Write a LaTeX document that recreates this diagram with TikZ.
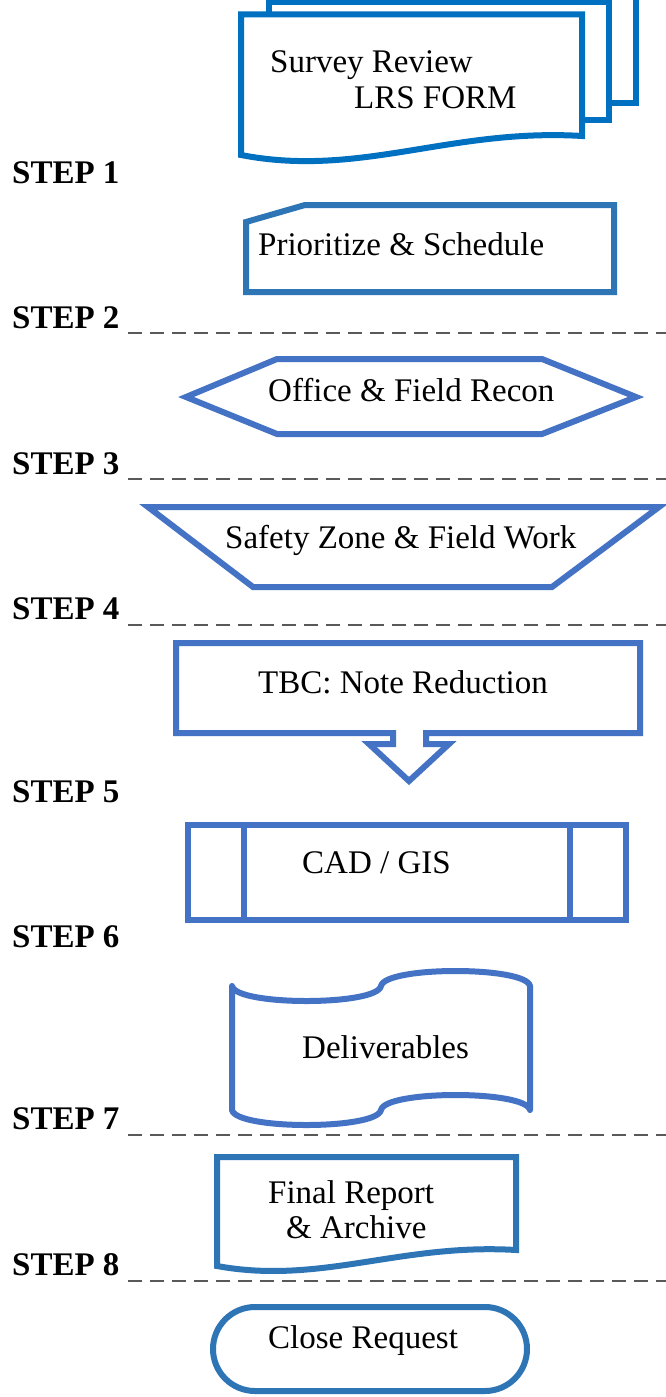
\documentclass[tikz,border=0pt]{standalone}
\usepackage{fontspec}
\setmainfont{Liberation Serif}
\definecolor{cdoc}{RGB}{0,112,192}
\definecolor{cmid}{RGB}{46,117,182}
\definecolor{cacc}{RGB}{68,114,196}
\definecolor{cdash}{RGB}{89,89,89}
\tikzset{
  shp/.style={line width=6pt, fill=white, line join=miter},
  lbl/.style={anchor=base west, inner sep=0pt, font=\fontsize{33}{40}\selectfont},
  steplbl/.style={anchor=base west, inner sep=0pt, font=\fontsize{33}{40}\selectfont\bfseries},
  dashline/.style={draw=cdash, line width=2pt, dash pattern=on 14pt off 8pt}
}
\begin{document}
\begin{tikzpicture}[x=1pt,y=-1pt]
\useasboundingbox (0,0) rectangle (666,1397);
\fill[white] (0,0) rectangle (666,1397);
\clip (0,0) rectangle (666,1397);

% Multi-document
\draw[shp, draw=cdoc] (296,-11) rectangle (636,103);
\draw[shp, draw=cdoc] (269,2) rectangle (609,120);
\draw[shp, draw=cdoc] (241,14.5) -- (582,14.5) -- (582,136)
   .. controls (450,128) and (360,178) .. (241,155) -- cycle;
\node[lbl] (sr) at (270,72) {Survey Review};
\node[lbl] (lrs) at (354,108) {LRS FORM};

% Prioritize (snipped corner)
\draw[shp, draw=cmid] (246,222) -- (305,205) -- (614,205) -- (614,292) -- (246,292) -- cycle;
\node[lbl] (prio) at (258,255) {Prioritize \& Schedule};

% Hexagon
\draw[shp, draw=cacc] (186,397) -- (277,359) -- (542,359) -- (636,397) -- (542,434) -- (277,434) -- cycle;
\node[lbl] (recon) at (268,401) {Office \& Field Recon};

% Trapezoid
\draw[shp, draw=cacc] (148,507) -- (659,507) -- (552,587) -- (253,587) -- cycle;
\node[lbl] (safety) at (225,548) {Safety Zone \& Field Work};

% Down arrow callout
\draw[shp, draw=cacc] (176,643) -- (640,643) -- (640,733) -- (426,733) -- (426,744) -- (449,744)
   -- (409,781) -- (369,744) -- (393,744) -- (393,733) -- (176,733) -- cycle;
\node[lbl] (tbc) at (258,693) {TBC: Note Reduction};

% Predefined process
\draw[shp, draw=cacc] (188,825) rectangle (626,920);
\draw[line width=6pt, draw=cacc] (244,825) -- (244,920);
\draw[line width=6pt, draw=cacc] (570,825) -- (570,920);
\node[lbl] (cad) at (302,873) {CAD / GIS};

% Punched tape
\draw[shp, draw=cacc, line join=round] (232,986) .. controls (236,1006) and (377,1006) .. (381,986)
   .. controls (385,966) and (526,966) .. (530,986) -- (530,1110)
   .. controls (526,1090) and (385,1090) .. (381,1110)
   .. controls (377,1130) and (236,1130) .. (232,1110) -- cycle;
\node[lbl] (deliv) at (302,1058) {Deliverables};

% Document
\draw[shp, draw=cmid] (217,1157) -- (516,1157) -- (516,1250)
   .. controls (400,1243) and (321,1285) .. (217,1266) -- cycle;
\node[lbl] (final) at (268,1203) {Final Report};
\node[lbl] (arch) at (286,1238) {\& Archive};

% Terminator
\draw[shp, draw=cmid, rounded corners=42pt] (213,1307) rectangle (527,1391);
\node[lbl] (close) at (268,1348) {Close Request};

% Step labels
\node[steplbl] (s1) at (12,183) {STEP 1};
\node[steplbl] (s2) at (12,328) {STEP 2};
\node[steplbl] (s3) at (12,474) {STEP 3};
\node[steplbl] (s4) at (12,619) {STEP 4};
\node[steplbl] (s5) at (12,802) {STEP 5};
\node[steplbl] (s6) at (12,947) {STEP 6};
\node[steplbl] (s7) at (12,1129) {STEP 7};
\node[steplbl] (s8) at (12,1275) {STEP 8};

% Dashed separators
\coordinate (d2a) at (128,333); \coordinate (d2b) at (666,333);
\coordinate (d3a) at (128,479); \coordinate (d3b) at (666,479);
\coordinate (d4a) at (128,625); \coordinate (d4b) at (666,625);
\coordinate (d7a) at (128,1135); \coordinate (d7b) at (666,1135);
\coordinate (d8a) at (128,1281); \coordinate (d8b) at (666,1281);
\draw[dashline] (d2a) -- (d2b);
\draw[dashline] (d3a) -- (d3b);
\draw[dashline] (d4a) -- (d4b);
\draw[dashline] (d7a) -- (d7b);
\draw[dashline] (d8a) -- (d8b);
\end{tikzpicture}
\end{document}
